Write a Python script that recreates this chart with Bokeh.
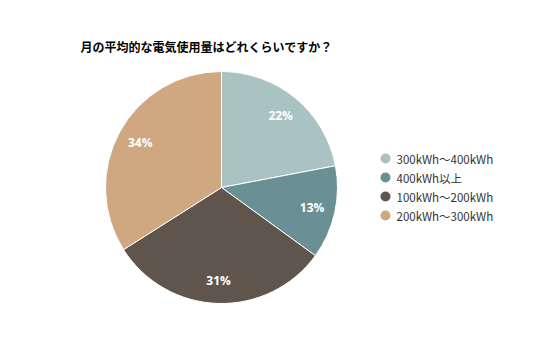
import numpy as np
from bokeh.plotting import figure
from bokeh.models import Range1d, ColumnDataSource
from bokeh.core.properties import value
from bokeh.embed import file_html
from bokeh.resources import INLINE

title = "月の平均的な電気使用量はどれくらいですか？"
categories = ["300kWh～400kWh", "400kWh以上", "100kWh～200kWh", "200kWh～300kWh"]
percents = [22, 13, 31, 34]
colors = ["#a9c2c2", "#6a9096", "#5f554c", "#cfa882"]

W, H = 520, 341
p = figure(width=W, height=H, output_backend="svg", toolbar_location=None,
           x_range=Range1d(0, W), y_range=Range1d(0, H), min_border=0)
p.axis.visible = False
p.grid.visible = False
p.outline_line_color = None
p.background_fill_color = "white"

cx, cy, r = 221, H - 187, 116
vals = np.array(percents, dtype=float)
frac = vals / vals.sum()
cum = np.concatenate([[0], np.cumsum(frac)])
start = np.pi / 2 - cum[1:] * 2 * np.pi
end = np.pi / 2 - cum[:-1] * 2 * np.pi
mid = (start + end) / 2
src = ColumnDataSource(dict(start=start, end=end, color=colors,
                            lx=cx + 0.80 * r * np.cos(mid), ly=cy + 0.80 * r * np.sin(mid),
                            lab=[f"{v}%" for v in percents]))
p.wedge(x=cx, y=cy, radius=r, start_angle="start", end_angle="end",
        fill_color="color", line_color="white", line_width=1, source=src)
p.text(x="lx", y="ly", text="lab", source=src, text_color="white",
       text_font=value("Open Sans"), text_font_style="bold", text_font_size="12px",
       text_align="center", text_baseline="middle")

p.text(x=[80], y=[H - 46], text=[title], text_font=value("Noto Sans CJK JP"),
       text_font_style="bold", text_font_size="12px", text_color="#000000",
       text_baseline="middle")

ly = [H - y for y in [158, 177, 196, 215]]
p.scatter(x=[385] * 4, y=ly, size=10, marker="circle", fill_color=colors, line_color=None)
p.text(x=[396] * 4, y=ly, text=categories, text_font=value("Noto Sans CJK JP"),
       text_font_size="11.5px", text_color="#333333", text_baseline="middle")

open("out.html", "w").write(file_html(p, INLINE))
